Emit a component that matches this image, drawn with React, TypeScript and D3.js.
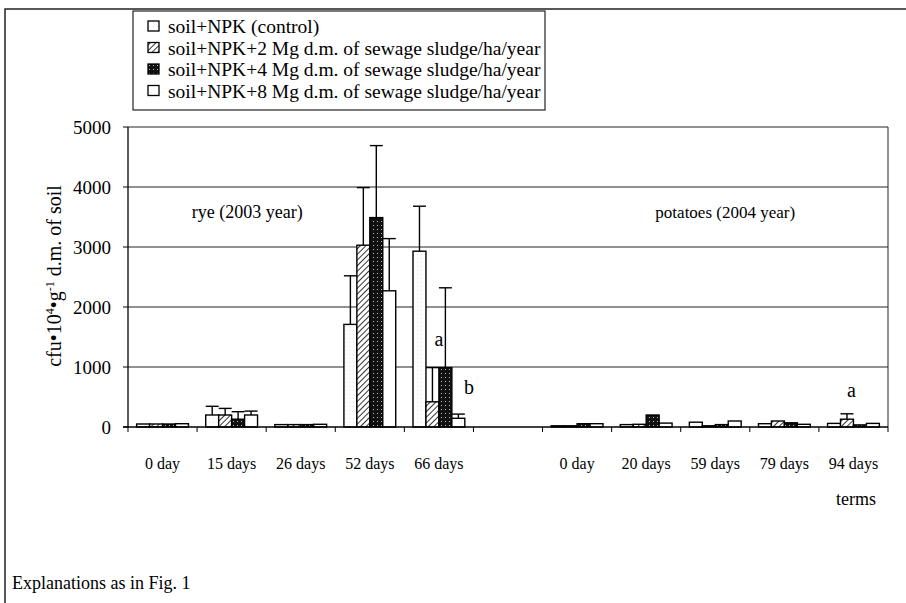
import React from 'react';
import * as d3 from 'd3';

const categories = ['0 day', '15 days', '26 days', '52 days', '66 days', '', '0 day', '20 days', '59 days', '79 days', '94 days'];
const seriesNames = [
  'soil+NPK (control)',
  'soil+NPK+2 Mg d.m. of sewage sludge/ha/year',
  'soil+NPK+4 Mg d.m. of sewage sludge/ha/year',
  'soil+NPK+8 Mg d.m. of sewage sludge/ha/year',
];
const controlValues = [50, 200, 40, 1710, 2930, null, 20, 40, 80, 55, 60];
const npk2Values = [50, 200, 40, 3030, 420, null, 20, 45, 20, 100, 130];
const npk4Values = [50, 130, 40, 3490, 990, null, 55, 200, 40, 70, 35];
const npk8Values = [55, 200, 45, 2270, 145, null, 55, 65, 100, 45, 60];
const controlErrTop = [null, 345, null, 2520, 3680, null, null, null, null, null, null];
const npk2ErrTop = [null, 310, null, 3990, 990, null, null, null, null, null, 220];
const npk4ErrTop = [null, 255, null, 4690, 2320, null, null, null, null, null, null];
const npk8ErrTop = [null, 265, null, 3140, 215, null, null, null, null, null, null];
const yTicks = [0, 1000, 2000, 3000, 4000, 5000];
const annotations = [
  { cat: 4, value: 1350, text: 'a', dx: 0 },
  { cat: 4, value: 550, text: 'b', dx: 30 },
  { cat: 10, value: 500, text: 'a', dx: -2 },
];
const periodLabels = [
  { cat: 1, text: 'rye (2003 year)', dx: -14, size: 18 },
  { cat: 8, text: 'potatoes (2004 year)', dx: -34, size: 17 },
];

const allValues = [controlValues, npk2Values, npk4Values, npk8Values];
const allErr = [controlErrTop, npk2ErrTop, npk4ErrTop, npk8ErrTop];
const fills = ['url(#stipple)', 'url(#hatch)', 'url(#dots)', '#fff'];

const FONT = "'Liberation Serif', 'Times New Roman', Times, serif";

export default function App() {
  const left = 128, right = 888, top = 127, bottom = 427;
  const x = d3.scaleBand<number>().domain(d3.range(categories.length)).range([left, right]).paddingInner(0.25).paddingOuter(0.125);
  const xs = d3.scaleBand<number>().domain([0, 1, 2, 3]).range([0, x.bandwidth()]);
  const y = d3.scaleLinear().domain([0, 5000]).range([bottom, top]);
  const step = x.step();
  const ts = { fontFamily: FONT } as React.CSSProperties;

  return (
    <svg width={906} height={603} style={{ position: 'absolute', left: 0, top: 0, background: '#fff', fontFamily: FONT }}>
      <defs>
        <pattern id="hatch" width={4} height={4} patternUnits="userSpaceOnUse" patternTransform="rotate(45)">
          <rect width={4} height={4} fill="#fff" />
          <line x1={0} y1={0} x2={0} y2={4} stroke="#000" strokeWidth={1.6} />
        </pattern>
        <pattern id="dots" width={4} height={4} patternUnits="userSpaceOnUse">
          <rect width={4} height={4} fill="#111" />
          <rect x={1} y={1} width={1} height={1} fill="#bbb" />
        </pattern>
        <pattern id="stipple" width={4} height={4} patternUnits="userSpaceOnUse">
          <rect width={4} height={4} fill="#fff" />
          <rect x={1} y={2} width={1} height={1} fill="#e4e4e4" />
        </pattern>
      </defs>
      <rect x={0} y={0} width={906} height={603} fill="#fff" />
      <rect x={5} y={9} width={903} height={600} fill="none" stroke="#222" strokeWidth={1.5} />

      {/* legend */}
      <rect x={133} y={11} width={412} height={99} fill="#fff" stroke="#222" strokeWidth={1.2} />
      {seriesNames.map((s, i) => (
        <g key={s}>
          <rect x={148} y={21 + i * 21.5} width={11} height={10} fill={fills[i]} stroke="#000" strokeWidth={1.3} />
          <text style={ts} x={168} y={33 + i * 21.5} fontSize={19.5}>{s}</text>
        </g>
      ))}

      {/* gridlines */}
      {yTicks.map(t => (
        <g key={t}>
          {t > 0 && <line x1={left} x2={right} y1={y(t)} y2={y(t)} stroke="#222" strokeWidth={1} />}
          <line x1={left - 5} x2={left} y1={y(t)} y2={y(t)} stroke="#000" strokeWidth={1} />
          <text style={ts} x={111} y={y(t) + 6.5} fontSize={19} textAnchor="end">{t}</text>
        </g>
      ))}
      <line x1={right} x2={right} y1={top} y2={bottom} stroke="#222" strokeWidth={1} />

      {/* bars */}
      {categories.map((c, ci) => (
        <g key={ci}>
          {allValues.map((vals, si) => {
            const v = vals[ci];
            if (v == null) return null;
            const bx = (x(ci) as number) + (xs(si) as number);
            const bw = xs.bandwidth();
            const e = allErr[si][ci];
            return (
              <g key={si}>
                <rect x={bx} y={y(v)} width={bw} height={y(0) - y(v)} fill={fills[si]} stroke="#000" strokeWidth={1.4} />
                {e != null && (
                  <g stroke="#000" strokeWidth={1.4}>
                    <line x1={bx + bw / 2} x2={bx + bw / 2} y1={y(v)} y2={y(e)} />
                    <line x1={bx} x2={bx + bw} y1={y(e)} y2={y(e)} />
                  </g>
                )}
              </g>
            );
          })}
        </g>
      ))}

      {/* axes */}
      <line x1={left} x2={left} y1={top} y2={bottom + 1} stroke="#000" strokeWidth={1.3} />
      <line x1={left - 5} x2={right} y1={bottom} y2={bottom} stroke="#000" strokeWidth={1.3} />
      {d3.range(categories.length + 1).map(i => (
        <line key={i} x1={left + i * step} x2={left + i * step} y1={bottom} y2={bottom + 5} stroke="#000" strokeWidth={1} />
      ))}
      {categories.map((c, ci) => (
        <text style={ts} key={ci} x={(x(ci) as number) + x.bandwidth() / 2} y={469} fontSize={16} textAnchor="middle">{c}</text>
      ))}

      {/* annotations */}
      {annotations.map((a, i) => (
        <text style={ts} key={i} x={(x(a.cat) as number) + x.bandwidth() / 2 + a.dx} y={y(a.value)} fontSize={20} textAnchor="middle">{a.text}</text>
      ))}
      {periodLabels.map((p, i) => (
        <text style={ts} key={i} x={(x(p.cat) as number) + p.dx} y={218} fontSize={p.size}>{p.text}</text>
      ))}

      {/* y label */}
      <text style={ts} transform="translate(61,276) rotate(-90)" fontSize={20} textAnchor="middle">
        cfu•10<tspan dy={-7} fontSize={12}>4</tspan><tspan dy={7}>•g</tspan><tspan dy={-7} fontSize={12}>-1</tspan><tspan dy={7}> d.m. of soil</tspan>
      </text>

      <text style={ts} x={876} y={505} fontSize={18} textAnchor="end">terms</text>
      <text style={ts} x={12} y={589} fontSize={18}>Explanations as in Fig. 1</text>
    </svg>
  );
}
